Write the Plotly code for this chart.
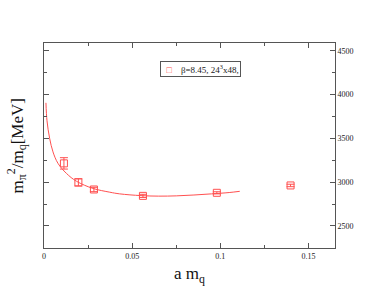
import plotly.graph_objects as go

# data points
amq = [0.0113, 0.0195, 0.0283, 0.0561, 0.0980, 0.1398]
ratio = [3214, 2997, 2916, 2843, 2878, 2962]
ratio_err = [65, 42, 25, 18, 12, 14]

# fit curve
fit_x = [0.0011, 0.0017, 0.0032, 0.0051, 0.0079, 0.0127, 0.0184, 0.0278, 0.0373,
         0.0429, 0.055, 0.065, 0.075, 0.085, 0.095, 0.105, 0.111]
fit_y = [3905, 3700, 3500, 3345, 3215, 3100, 3010, 2928, 2885,
         2866, 2846, 2840, 2843, 2853, 2866, 2881, 2895]

legend_label = "β=8.45, 24<sup>3</sup>x48,"
x_ticks = [0, 0.05, 0.1, 0.15]
x_tick_text = ["0", "0.05", "0.1", "0.15"]
y_ticks = [2500, 3000, 3500, 4000, 4500]

red = "#ff5050"
axc = "#555555"

fig = go.Figure()
fig.add_trace(go.Scatter(x=fit_x, y=fit_y, mode="lines", line=dict(color=red, width=1, shape="spline"),
                         showlegend=False, hoverinfo="skip"))
fig.add_trace(go.Scatter(x=amq, y=ratio, mode="markers", name=legend_label, showlegend=False,
                         marker=dict(symbol="square-open", size=7, color=red, line=dict(width=1, color=red)),
                         error_y=dict(type="data", array=ratio_err, color=red, thickness=1, width=4)))

fig.update_layout(
    width=388, height=300,
    margin=dict(l=44, r=53, t=43, b=52),
    paper_bgcolor="white", plot_bgcolor="white",
    font=dict(family="Liberation Serif, Times New Roman, serif", color="#222222"),
    showlegend=False,
    xaxis=dict(range=[0, 0.165], tickvals=x_ticks, ticktext=x_tick_text, ticks="inside", ticklen=5,
               tickcolor=axc, showline=True, linecolor=axc, linewidth=1, mirror="ticks",
               showgrid=False, zeroline=False, tickfont=dict(size=8, color="#222222"),
               minor=dict(dtick=0.025, ticks="inside", ticklen=3, tickcolor=axc)),
    yaxis=dict(range=[2248, 4588], tickvals=y_ticks, ticks="inside", ticklen=5, side="right",
               tickcolor=axc, showline=True, linecolor=axc, linewidth=1, mirror="ticks",
               showgrid=False, zeroline=False, tickfont=dict(size=8, color="#222222"),
               minor=dict(dtick=250, ticks="inside", ticklen=3, tickcolor=axc)),
    annotations=[
        dict(text="a m<sub>q</sub>", xref="paper", yref="paper", x=0.5, y=-0.132, xanchor="center",
             yanchor="middle", showarrow=False, font=dict(size=17, color="#111111")),
        dict(text="m<sub>π</sub><sup>2</sup>/m<sub>q</sub>[MeV]", xref="paper", yref="paper",
             x=-0.093, y=0.5, textangle=-90, xanchor="center", yanchor="middle", showarrow=False,
             font=dict(size=17, color="#111111")),
        dict(text="  <span style='color:#ff5050'>□</span>    " + legend_label, xref="paper", yref="paper",
             x=0.399, y=0.912, xanchor="left", yanchor="top", showarrow=False,
             bordercolor=axc, borderwidth=1, borderpad=1, bgcolor="white",
             font=dict(size=9, color="#222222")),
    ],
)

fig.write_html("out.html", config={"displayModeBar": False},
               post_script="document.body.style.margin='0px';")
